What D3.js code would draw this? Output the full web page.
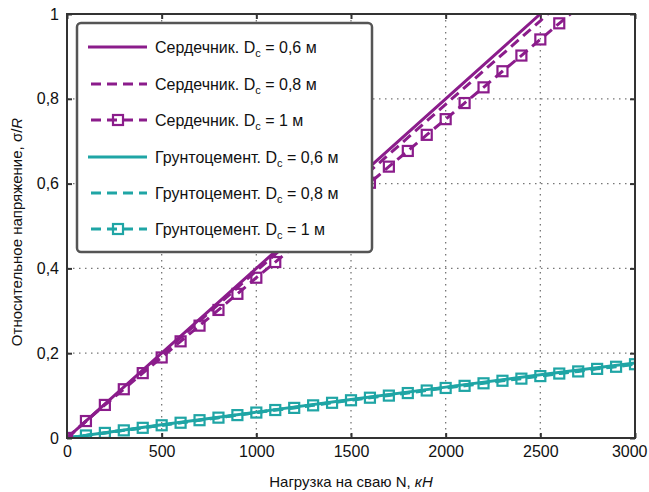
<!DOCTYPE html>
<html><head><meta charset="utf-8">
<script src="https://cdn.jsdelivr.net/npm/d3@7"></script>
<style>
body{margin:0;background:#fff;}
text{font-family:"Liberation Sans Narrow","Arial Narrow","Liberation Sans",Arial,sans-serif;}
</style></head>
<body><svg id="c" width="649" height="492"></svg>
<script>
// ---- data ----
const loadsCoreMarkers = [0,100,200,300,400,500,600,700,800,900,1000,1100,1200,1300,1400,1500,1600,1700,1800,1900,2000,2100,2200,2300,2400,2500,2600,2700];
const coreD1 = [0,0.040,0.078,0.115,0.153,0.190,0.228,0.265,0.302,0.340,0.378,0.415,0.452,0.490,0.527,0.565,0.602,0.640,0.677,0.715,0.752,0.790,0.827,0.865,0.902,0.940,0.978,1.015];
const loadsLines = [0,500,1000,1500,2000,2500,2600];
const coreD06 = [0,0.200,0.400,0.600,0.800,1.000,1.040];
const coreD08 = [0,0.197,0.394,0.590,0.787,0.984,1.024];
const loadsCem = [0,100,200,300,400,500,600,700,800,900,1000,1100,1200,1300,1400,1500,1600,1700,1800,1900,2000,2100,2200,2300,2400,2500,2600,2700,2800,2900,3000];
const cemD1 = [0,0.006,0.012,0.018,0.024,0.030,0.036,0.042,0.048,0.054,0.060,0.066,0.071,0.077,0.083,0.089,0.095,0.100,0.106,0.112,0.118,0.123,0.129,0.135,0.140,0.146,0.152,0.157,0.163,0.168,0.174];
const loadsCemLines = [0,500,1000,1500,2000,2500,3000];
const cemD06 = [0,0.031,0.061,0.091,0.120,0.149,0.177];
const cemD08 = [0,0.030,0.060,0.090,0.119,0.147,0.175];
const xTicks = [0,500,1000,1500,2000,2500,3000];
const yTicks = [0,0.2,0.4,0.6,0.8,1];
const legendLabels = [
  ["Сердечник. D","c"," = 0,6 м"],
  ["Сердечник. D","c"," = 0,8 м"],
  ["Сердечник. D","c"," = 1 м"],
  ["Грунтоцемент. D","c"," = 0,6 м"],
  ["Грунтоцемент. D","c"," = 0,8 м"],
  ["Грунтоцемент. D","c"," = 1 м"]
];

// ---- layout ----
const purple = "#8b1c8b", teal = "#1fa5a5";
const L = 67, T = 14, W = 568, H = 424;
const svg = d3.select("#c");
const x = d3.scaleLinear().domain([0,3000]).range([L, L+W]);
const y = d3.scaleLinear().domain([0,1]).range([T+H, T]);

svg.append("clipPath").attr("id","clip").append("rect").attr("x",L).attr("y",T).attr("width",W).attr("height",H);

// grid
const grid = svg.append("g");
grid.selectAll(".gx").data(xTicks.slice(1,-1)).enter().append("line")
  .attr("x1",d=>x(d)).attr("x2",d=>x(d)).attr("y1",T).attr("y2",T+H)
  .attr("stroke","#777").attr("stroke-width",1.3).attr("stroke-dasharray","1.5,4.5");
grid.selectAll(".gy").data(yTicks.slice(1,-1)).enter().append("line")
  .attr("y1",d=>y(d)).attr("y2",d=>y(d)).attr("x1",L).attr("x2",L+W)
  .attr("stroke","#777").attr("stroke-width",1.3).attr("stroke-dasharray","1.5,4.5");

// axes
const fs = 16;
const ax = svg.append("g").attr("transform",`translate(0,${T+H})`)
  .call(d3.axisBottom(x).tickValues(xTicks).tickFormat(d3.format("d")).tickSize(-5).tickPadding(8));
const ay = svg.append("g").attr("transform",`translate(${L},0)`)
  .call(d3.axisLeft(y).tickValues(yTicks).tickFormat(d=>String(d).replace(".",",")).tickSize(-5).tickPadding(8));
const ax2 = svg.append("g").attr("transform",`translate(0,${T})`)
  .call(d3.axisTop(x).tickValues(xTicks).tickFormat("").tickSize(-5));
const ay2 = svg.append("g").attr("transform",`translate(${L+W},0)`)
  .call(d3.axisRight(y).tickValues(yTicks).tickFormat("").tickSize(-5));
[ax,ay,ax2,ay2].forEach(g=>{
  g.select(".domain").remove();
  g.selectAll(".tick line").attr("stroke","#333").attr("stroke-width",2);
  g.selectAll("text").attr("font-size",fs).attr("fill","#111")
   .style("font-family",'"Liberation Sans Narrow","Arial Narrow","Liberation Sans",Arial,sans-serif');
});
// keep last x tick label inside the picture
ax.selectAll(".tick text").filter(d=>d===3000).attr("text-anchor","end").attr("x",12);

// data lines
const plot = svg.append("g").attr("clip-path","url(#clip)");
const line = d3.line().x(d=>x(d[0])).y(d=>y(d[1]));
function zip(a,b){return a.map((v,i)=>[v,b[i]]);}
function drawLine(xs,ys,color,dash){
  plot.append("path").datum(zip(xs,ys)).attr("d",line).attr("fill","none")
    .attr("stroke",color).attr("stroke-width",3).attr("stroke-dasharray",dash||null);
}
function drawMarkers(xs,ys,color){
  plot.append("g").selectAll("rect").data(zip(xs,ys)).enter().append("rect")
    .attr("x",d=>x(d[0])-5).attr("y",d=>y(d[1])-5).attr("width",10).attr("height",10)
    .attr("fill","none").attr("stroke",color).attr("stroke-width",2.2);
}
drawLine(loadsCemLines,cemD06,teal);
drawLine(loadsCemLines,cemD08,teal,"10,6");
drawLine(loadsCem,cemD1,teal,"10,6");
drawMarkers(loadsCem,cemD1,teal);
drawLine(loadsLines,coreD06,purple);
drawLine(loadsLines,coreD08,purple,"10,6");
drawLine(loadsCoreMarkers,coreD1,purple,"10,6");
drawMarkers(loadsCoreMarkers,coreD1,purple);

// frame
svg.append("rect").attr("x",L).attr("y",T).attr("width",W).attr("height",H)
  .attr("fill","none").attr("stroke","#333").attr("stroke-width",2);

// legend
const lg = svg.append("g");
lg.append("rect").attr("x",77).attr("y",23).attr("width",295).attr("height",229).attr("rx",4)
  .attr("fill","#fff").attr("stroke","#555").attr("stroke-width",2.5);
const rowsY = [47,84,120,157,193,229];
const styles = [
  {c:purple,dash:null,m:false},{c:purple,dash:"10,6",m:false},{c:purple,dash:"10,6",m:true},
  {c:teal,dash:null,m:false},{c:teal,dash:"10,6",m:false},{c:teal,dash:"10,6",m:true}];
legendLabels.forEach((lab,i)=>{
  const yy = rowsY[i], s = styles[i];
  const x0 = s.dash ? 91 : 88;
  lg.append("line").attr("x1",x0).attr("x2",147).attr("y1",yy).attr("y2",yy)
    .attr("stroke",s.c).attr("stroke-width",3).attr("stroke-dasharray",s.dash);
  if(s.m){
    lg.append("rect").attr("x",118-5).attr("y",yy-5).attr("width",10).attr("height",10)
      .attr("fill","none").attr("stroke",s.c).attr("stroke-width",2.2);
  }
  const t = lg.append("text").attr("x",155).attr("y",yy+6).attr("font-size",fs).attr("fill","#111");
  t.append("tspan").text(lab[0]);
  t.append("tspan").attr("font-size",11).attr("dy",4).text(lab[1]);
  t.append("tspan").attr("dy",-4).text(lab[2]);
});

// axis labels
const xl = svg.append("text").attr("x",L+W/2).attr("y",487).attr("text-anchor","middle")
  .attr("font-size",fs-1).attr("fill","#111");
xl.append("tspan").text("Нагрузка на сваю N, ");
xl.append("tspan").attr("font-style","italic").text("кН");
const yl = svg.append("text").attr("transform",`translate(22,${T+H/2+6}) rotate(-90)`)
  .attr("text-anchor","middle").attr("font-size",fs-1).attr("fill","#111");
yl.append("tspan").text("Относительное напряжение, σ/");
yl.append("tspan").attr("font-style","italic").text("R");
</script></body></html>
